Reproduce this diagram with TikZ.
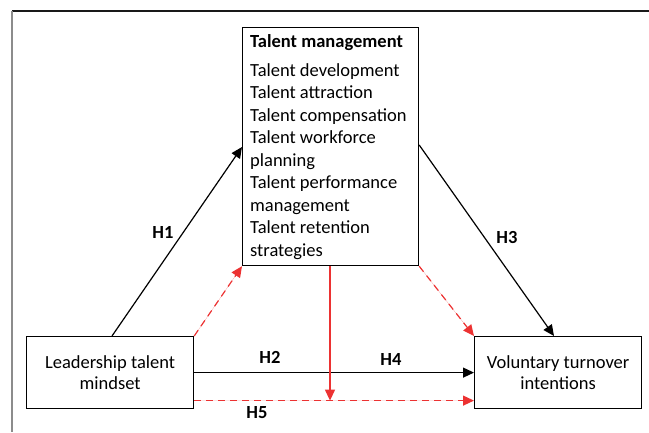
\documentclass[tikz,border=0pt]{standalone}
\usepackage{fontspec}
\setmainfont{Carlito}
\usetikzlibrary{arrows.meta}
\definecolor{medred}{RGB}{236,50,50}
\tikzset{
  boxnode/.style={draw=black, line width=1.2pt, rectangle, inner sep=0pt, anchor=north west},
  bodyfont/.style={font=\fontsize{18.5}{21}\selectfont},
  conn/.style={line width=1.2pt, -{Triangle[length=11pt,width=10pt]}},
  redconn/.style={conn, draw=medred, fill=medred},
  reddash/.style={redconn, dash pattern=on 7pt off 5pt},
  hyplabel/.style={font=\fontsize{18.5}{21}\selectfont\bfseries, inner sep=0pt}
}
\begin{document}
\begin{tikzpicture}[x=1pt, y=-1pt]
  \useasboundingbox (0,0) rectangle (649,432);
  % outer frame
  \draw[line width=1.5pt, black!90] (12,11) -- (649,11);
  \draw[line width=2pt, black!45] (12,11) -- (12,432);

  % constructs
  \node[boxnode, minimum width=176pt, minimum height=238pt] (tm) at (242,27) {};
  \node[anchor=base west, inner sep=0pt] (tmtext) at (250,47) {%
    \fontsize{18.5}{22.5}\selectfont
    \begin{tabular}[t]{@{}l@{}}
      \textbf{Talent management}\\[6.5pt]
      Talent development\\
      Talent attraction\\
      Talent compensation\\
      Talent workforce\\
      planning\\
      Talent performance\\
      management\\
      Talent retention\\
      strategies
    \end{tabular}};
  \node[boxnode, bodyfont, align=center, minimum width=167pt, minimum height=72pt] (ld) at (26,336) {Leadership talent\\mindset};
  \node[boxnode, bodyfont, align=center, minimum width=167pt, minimum height=72pt] (vt) at (474,336) {Voluntary turnover\\intentions};

  % attachment points
  \coordinate (h1s) at ([xshift=86pt]ld.north west);
  \coordinate (h1e) at ([yshift=-120pt]tm.north west);
  \coordinate (h3s) at ([yshift=-118pt]tm.north east);
  \coordinate (h3e) at ([xshift=80pt]vt.north west);
  \coordinate (h5s) at ([yshift=-28pt]ld.east);
  \coordinate (h5e) at ([yshift=-28pt]vt.west);
  \coordinate (meds) at ([xshift=88pt]tm.south west);
  \coordinate (mede) at (meds |- h5s);

  % direct paths
  \draw[conn] (h1s) -- (h1e);
  \draw[conn] (h3s) -- (h3e);
  \draw[conn] (ld.east) -- (vt.west);

  % mediated paths
  \draw[reddash] (ld.north east) -- (tm.south west);
  \draw[reddash] (tm.south east) -- (vt.north west);
  \draw[reddash] (h5s) -- (h5e);
  \draw[redconn] (meds) -- (mede);

  % hypothesis labels
  \node[hyplabel] (lh1) at (163,232) {H1};
  \node[hyplabel] (lh2) at (270,357) {H2};
  \node[hyplabel] (lh3) at (507,237) {H3};
  \node[hyplabel] (lh4) at (391,359) {H4};
  \node[hyplabel] (lh5) at (257,413) {H5};
\end{tikzpicture}
\end{document}
